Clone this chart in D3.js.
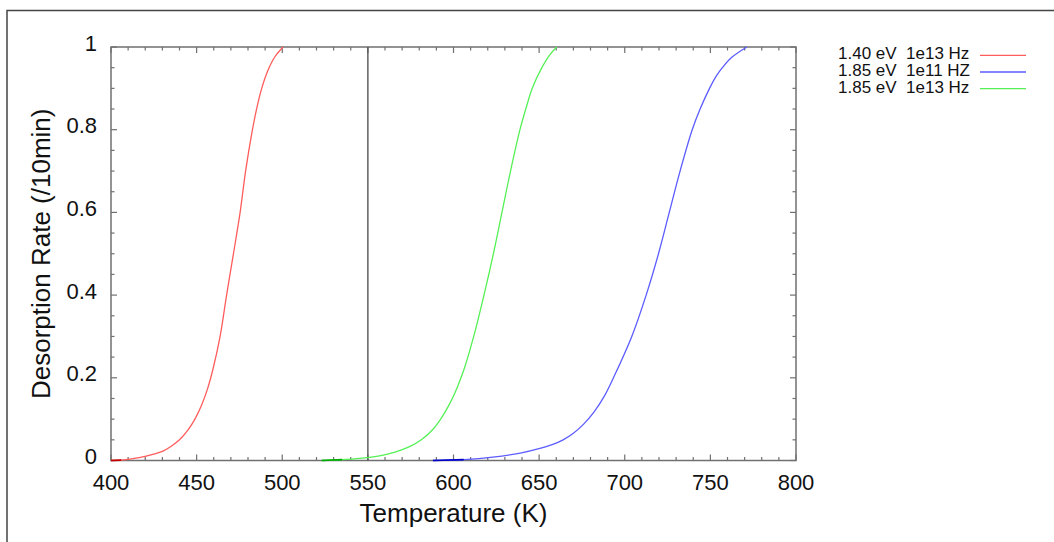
<!DOCTYPE html>
<html>
<head>
<meta charset="utf-8">
<script src="https://cdn.jsdelivr.net/npm/d3@7"></script>
<style>
  html, body { margin: 0; padding: 0; background: #fff; }
  text { font-family: "Liberation Sans", Arial, sans-serif; fill: #111; }
</style>
</head>
<body>
<div id="chart"></div>
<script>
// Values
const redTemp = [400, 406, 412, 420, 430, 435, 440, 445, 449, 453, 456.5, 459.5, 463.7, 467.5, 471.5, 475.4, 478.6, 482.6, 485, 488, 491.8, 495.8, 500.5];
const redRate = [0, 0.001, 0.004, 0.01, 0.022, 0.034, 0.05, 0.074, 0.1, 0.135, 0.175, 0.22, 0.3, 0.4, 0.5, 0.6, 0.7, 0.8, 0.85, 0.9, 0.945, 0.977, 1];

const blueTemp = [588, 606, 623, 639, 651, 658, 664, 670, 676, 682, 688, 693.4, 704.1, 712.5, 719.7, 726, 732.3, 739.4, 744, 749.5, 753.5, 757, 762.5, 771.3];
const blueRate = [0, 0.002, 0.008, 0.018, 0.03, 0.039, 0.05, 0.066, 0.088, 0.117, 0.155, 0.2, 0.3, 0.4, 0.5, 0.6, 0.7, 0.8, 0.85, 0.9, 0.93, 0.95, 0.975, 1];

const greenTemp = [523, 535, 545, 555, 562, 568, 574.6, 581.2, 587.5, 592.5, 597.5, 602, 606.5, 611.8, 617.8, 623.3, 628.3, 633.3, 638.8, 642.2, 646, 651.6, 656, 660.3];
const greenRate = [0, 0.002, 0.005, 0.01, 0.016, 0.023, 0.034, 0.05, 0.073, 0.1, 0.135, 0.175, 0.225, 0.3, 0.4, 0.5, 0.6, 0.7, 0.8, 0.85, 0.9, 0.95, 0.98, 1];

const seriesLabels = ["1.40 eV  1e13 Hz", "1.85 eV  1e11 HZ", "1.85 eV  1e13 Hz"];
const seriesColors = ["#ff5c5c", "#5c5cff", "#55f055"];
const baseColors = ["#c80000", "#0000c8", "#00a800"];

const xTicks = [400, 450, 500, 550, 600, 650, 700, 750, 800];
const yTicks = [0, 0.2, 0.4, 0.6, 0.8, 1];
const markerTemp = 550;

const width = 1054, height = 542;
const margin = { left: 111, right: 258, top: 47, bottom: 81.5 };
const innerWidth = width - margin.left - margin.right;
const innerHeight = height - margin.top - margin.bottom;

const x = d3.scaleLinear().domain([400, 800]).range([0, innerWidth]);
const y = d3.scaleLinear().domain([0, 1]).range([innerHeight, 0]);

const series = [
  { temp: redTemp, rate: redRate },
  { temp: blueTemp, rate: blueRate },
  { temp: greenTemp, rate: greenRate }
].map((s, i) => ({
  label: seriesLabels[i],
  color: seriesColors[i],
  base: baseColors[i],
  points: s.temp.map((t, j) => ({ t, r: s.rate[j] }))
}));

const svg = d3.select("#chart").append("svg")
  .attr("width", width)
  .attr("height", height);

// outer frame (top + left only, as in the picture)
svg.append("path")
  .attr("d", `M7,${height} L7,10.5 L${width},10.5`)
  .attr("fill", "none")
  .attr("stroke", "#444")
  .attr("stroke-width", 1.5);

const g = svg.append("g")
  .attr("transform", `translate(${margin.left}, ${margin.top})`);

const axisColor = "#707070";

// ticks on all four sides, pointing inward
const xMinor = d3.range(400, 801, 10);
const yMinor = d3.range(0, 1.0001, 0.05);

const bottomAxis = g.append("g").attr("transform", `translate(0, ${innerHeight})`);
bottomAxis.selectAll("line").data(xMinor).join("line")
  .attr("x1", d => x(d)).attr("x2", d => x(d))
  .attr("y1", 0).attr("y2", d => d % 50 === 0 ? -6 : -3.5)
  .attr("stroke", axisColor).attr("stroke-width", 1.2);

const topAxis = g.append("g");
topAxis.selectAll("line").data(xMinor).join("line")
  .attr("x1", d => x(d)).attr("x2", d => x(d))
  .attr("y1", 0).attr("y2", d => d % 50 === 0 ? 6 : 3.5)
  .attr("stroke", axisColor).attr("stroke-width", 1.2);

const isMajorY = d => Math.abs(d * 5 - Math.round(d * 5)) < 1e-6;

const leftAxis = g.append("g");
leftAxis.selectAll("line").data(yMinor).join("line")
  .attr("x1", 0).attr("x2", d => isMajorY(d) ? 6 : 3.5)
  .attr("y1", d => y(d)).attr("y2", d => y(d))
  .attr("stroke", axisColor).attr("stroke-width", 1.2);

const rightAxis = g.append("g").attr("transform", `translate(${innerWidth}, 0)`);
rightAxis.selectAll("line").data(yMinor).join("line")
  .attr("x1", 0).attr("x2", d => isMajorY(d) ? -6 : -3.5)
  .attr("y1", d => y(d)).attr("y2", d => y(d))
  .attr("stroke", axisColor).attr("stroke-width", 1.2);

// plot frame
g.append("rect")
  .attr("width", innerWidth)
  .attr("height", innerHeight)
  .attr("fill", "none")
  .attr("stroke", axisColor)
  .attr("stroke-width", 1.5);

// tick labels
g.append("g").selectAll("text").data(xTicks).join("text")
  .attr("x", d => x(d))
  .attr("y", innerHeight + 29.5)
  .attr("text-anchor", "middle")
  .style("font-size", "22px")
  .text(d => d);

g.append("g").selectAll("text").data(yTicks).join("text")
  .attr("x", -14)
  .attr("y", d => y(d) + 3.5)
  .attr("text-anchor", "end")
  .style("font-size", "22px")
  .text(d => d3.format("~g")(d));

// marker line at 550 K
g.append("line")
  .attr("x1", x(markerTemp)).attr("x2", x(markerTemp))
  .attr("y1", 0).attr("y2", innerHeight)
  .attr("stroke", "#555")
  .attr("stroke-width", 1.4);

// curves
const line = d3.line()
  .x(d => x(d.t))
  .y(d => y(d.r))
  .curve(d3.curveCatmullRom.alpha(0.5));

g.selectAll("path.curve")
  .data(series)
  .join("path")
  .attr("class", "curve")
  .attr("d", d => line(d.points))
  .attr("fill", "none")
  .attr("stroke", d => d.color)
  .attr("stroke-width", 1.3);

// stretch that sits on the axis shows darker
g.selectAll("path.base")
  .data(series)
  .join("path")
  .attr("class", "base")
  .attr("d", d => line(d.points.slice(0, 2)))
  .attr("fill", "none")
  .attr("stroke", d => d.base)
  .attr("stroke-width", 1.6);

// axis titles
svg.append("text")
  .attr("x", margin.left + innerWidth / 2)
  .attr("y", 522)
  .attr("text-anchor", "middle")
  .style("font-size", "26px")
  .text("Temperature (K)");

svg.append("text")
  .attr("transform", `translate(50, ${margin.top + innerHeight / 2}) rotate(-90)`)
  .attr("text-anchor", "middle")
  .style("font-size", "26px")
  .text("Desorption Rate (/10min)");

// legend
const legend = svg.append("g").attr("transform", "translate(838, 59.3)");
const rows = legend.selectAll("g").data(series).join("g")
  .attr("transform", (d, i) => `translate(0, ${i * 16.7})`);

rows.append("text")
  .attr("x", 0)
  .attr("y", 0)
  .attr("xml:space", "preserve")
  .style("white-space", "pre")
  .style("font-size", "17px")
  .text(d => d.label);

rows.append("line")
  .attr("x1", 142).attr("x2", 188)
  .attr("y1", -4).attr("y2", -4)
  .attr("stroke", d => d.color)
  .attr("stroke-width", 1.3);
</script>
</body>
</html>
